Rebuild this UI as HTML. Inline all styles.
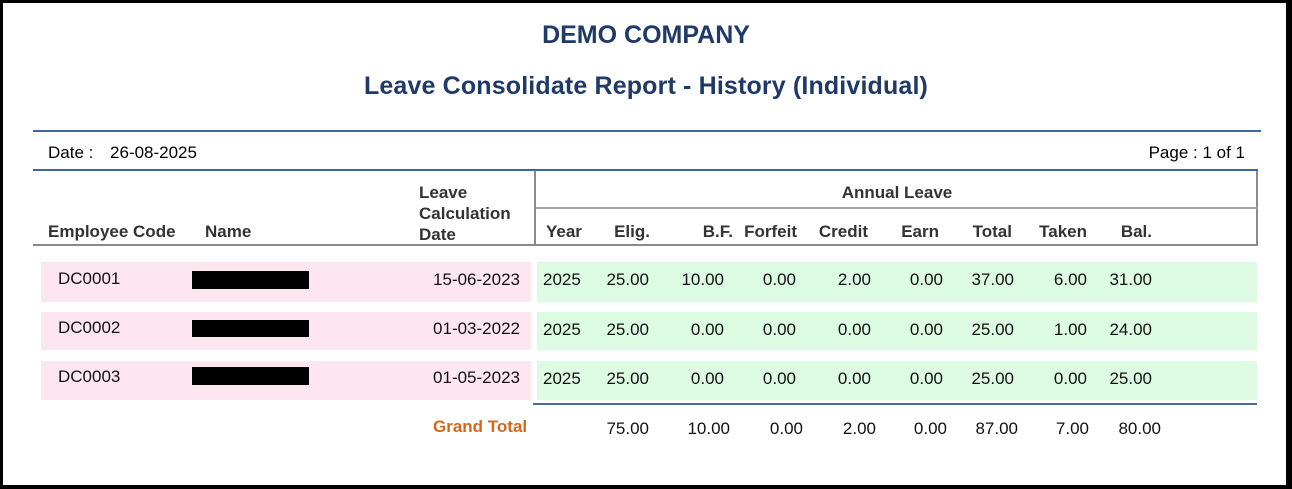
<!DOCTYPE html>
<html><head><meta charset="utf-8"><style>
html,body{margin:0;padding:0;}
body{width:1292px;height:489px;position:relative;overflow:hidden;background:#fff;font-family:"Liberation Sans",Arial,sans-serif;}
.a{position:absolute;}
.t{position:absolute;font-size:17px;line-height:20px;white-space:nowrap;color:#111;}
.h{font-weight:bold;color:#333;}
.r{text-align:right;}
.ttl{position:absolute;left:0;width:1292px;text-align:center;font-weight:bold;color:#1f3a68;font-size:25px;line-height:30px;white-space:nowrap;}
.pink{background:#fde6ef;}
.green{background:#ddfbe3;}
.blk{background:#000;}
</style></head><body>
<!-- frame -->
<div class="a blk" style="left:0;top:0;width:1292px;height:3px"></div>
<div class="a blk" style="left:0;top:485px;width:1292px;height:4px"></div>
<div class="a blk" style="left:0;top:0;width:3px;height:489px"></div>
<div class="a blk" style="left:1286px;top:0;width:6px;height:489px"></div>

<div class="ttl" style="top:20px;">DEMO COMPANY</div>
<div class="ttl" style="top:71px;letter-spacing:0.15px;">Leave Consolidate Report - History (Individual)</div>

<div class="a" style="left:33px;top:130px;width:1228px;height:2px;background:#3d6a9e"></div>
<div class="t" style="left:48px;top:143px;color:#000">Date :</div>
<div class="t" style="left:110px;top:143px;color:#000">26-08-2025</div>
<div class="t r" style="right:47px;top:143px;color:#000">Page : 1 of 1</div>
<div class="a" style="left:33px;top:169px;width:1225px;height:2px;background:#3d6a9e"></div>

<!-- header grid lines -->
<div class="a" style="left:534px;top:171px;width:2px;height:74px;background:#8a8a8a"></div>
<div class="a" style="left:1256px;top:171px;width:2px;height:75px;background:#8a8a8a"></div>
<div class="a" style="left:536px;top:207px;width:1721px;max-width:721px;height:2px;background:#a0a0a0"></div>
<div class="a" style="left:33px;top:244px;width:1225px;height:2px;background:#8a8a8a"></div>

<div class="t h" style="left:419px;top:183px">Leave</div>
<div class="t h" style="left:419px;top:204px">Calculation</div>
<div class="t h" style="left:419px;top:225px">Date</div>
<div class="t h" style="left:48px;top:222px">Employee Code</div>
<div class="t h" style="left:205px;top:222px">Name</div>
<div class="t h" style="left:797px;width:200px;text-align:center;top:183px">Annual Leave</div>
<div class="t h" style="left:546px;top:222px">Year</div>
<div class="t h r" style="right:642px;top:222px">Elig.</div>
<div class="t h r" style="right:559px;top:222px">B.F.</div>
<div class="t h r" style="right:495px;top:222px">Forfeit</div>
<div class="t h r" style="right:424px;top:222px">Credit</div>
<div class="t h r" style="right:353px;top:222px">Earn</div>
<div class="t h r" style="right:280px;top:222px">Total</div>
<div class="t h r" style="right:205px;top:222px">Taken</div>
<div class="t h r" style="right:140px;top:222px">Bal.</div>

<!-- rows backgrounds -->
<div class="a pink" style="left:41px;top:262px;width:490px;height:40px"></div>
<div class="a green" style="left:537px;top:262px;width:720px;height:40px"></div>
<div class="a pink" style="left:41px;top:312px;width:490px;height:38px"></div>
<div class="a green" style="left:537px;top:312px;width:720px;height:38px"></div>
<div class="a pink" style="left:41px;top:361px;width:490px;height:39px"></div>
<div class="a green" style="left:537px;top:361px;width:720px;height:39px"></div>

<div class="a blk" style="left:192px;top:271px;width:117px;height:18px"></div>
<div class="a blk" style="left:192px;top:320px;width:117px;height:17px"></div>
<div class="a blk" style="left:192px;top:367px;width:117px;height:18px"></div>

<!-- row 1 -->
<div class="t" style="left:58px;top:269px">DC0001</div>
<div class="t r" style="right:772px;top:270px">15-06-2023</div>
<div class="t" style="left:543px;top:270px">2025</div>
<div class="t r" style="right:643px;top:270px">25.00</div>
<div class="t r" style="right:568px;top:270px">10.00</div>
<div class="t r" style="right:496px;top:270px">0.00</div>
<div class="t r" style="right:421px;top:270px">2.00</div>
<div class="t r" style="right:349px;top:270px">0.00</div>
<div class="t r" style="right:278px;top:270px">37.00</div>
<div class="t r" style="right:205px;top:270px">6.00</div>
<div class="t r" style="right:140px;top:270px">31.00</div>
<!-- row 2 -->
<div class="t" style="left:58px;top:318px">DC0002</div>
<div class="t r" style="right:772px;top:319px">01-03-2022</div>
<div class="t" style="left:543px;top:320px">2025</div>
<div class="t r" style="right:643px;top:320px">25.00</div>
<div class="t r" style="right:568px;top:320px">0.00</div>
<div class="t r" style="right:496px;top:320px">0.00</div>
<div class="t r" style="right:421px;top:320px">0.00</div>
<div class="t r" style="right:349px;top:320px">0.00</div>
<div class="t r" style="right:278px;top:320px">25.00</div>
<div class="t r" style="right:205px;top:320px">1.00</div>
<div class="t r" style="right:140px;top:320px">24.00</div>
<!-- row 3 -->
<div class="t" style="left:58px;top:367px">DC0003</div>
<div class="t r" style="right:772px;top:368px">01-05-2023</div>
<div class="t" style="left:543px;top:369px">2025</div>
<div class="t r" style="right:643px;top:369px">25.00</div>
<div class="t r" style="right:568px;top:369px">0.00</div>
<div class="t r" style="right:496px;top:369px">0.00</div>
<div class="t r" style="right:421px;top:369px">0.00</div>
<div class="t r" style="right:349px;top:369px">0.00</div>
<div class="t r" style="right:278px;top:369px">25.00</div>
<div class="t r" style="right:205px;top:369px">0.00</div>
<div class="t r" style="right:140px;top:369px">25.00</div>

<div class="a" style="left:533px;top:403px;width:724px;height:2px;background:#4a6d96"></div>

<!-- grand total -->
<div class="t" style="left:433px;top:417px;font-weight:bold;color:#d2691e">Grand Total</div>
<div class="t r" style="right:643px;top:419px">75.00</div>
<div class="t r" style="right:562px;top:419px">10.00</div>
<div class="t r" style="right:489px;top:419px">0.00</div>
<div class="t r" style="right:416px;top:419px">2.00</div>
<div class="t r" style="right:345px;top:419px">0.00</div>
<div class="t r" style="right:274px;top:419px">87.00</div>
<div class="t r" style="right:203px;top:419px">7.00</div>
<div class="t r" style="right:131px;top:419px">80.00</div>
</body></html>
